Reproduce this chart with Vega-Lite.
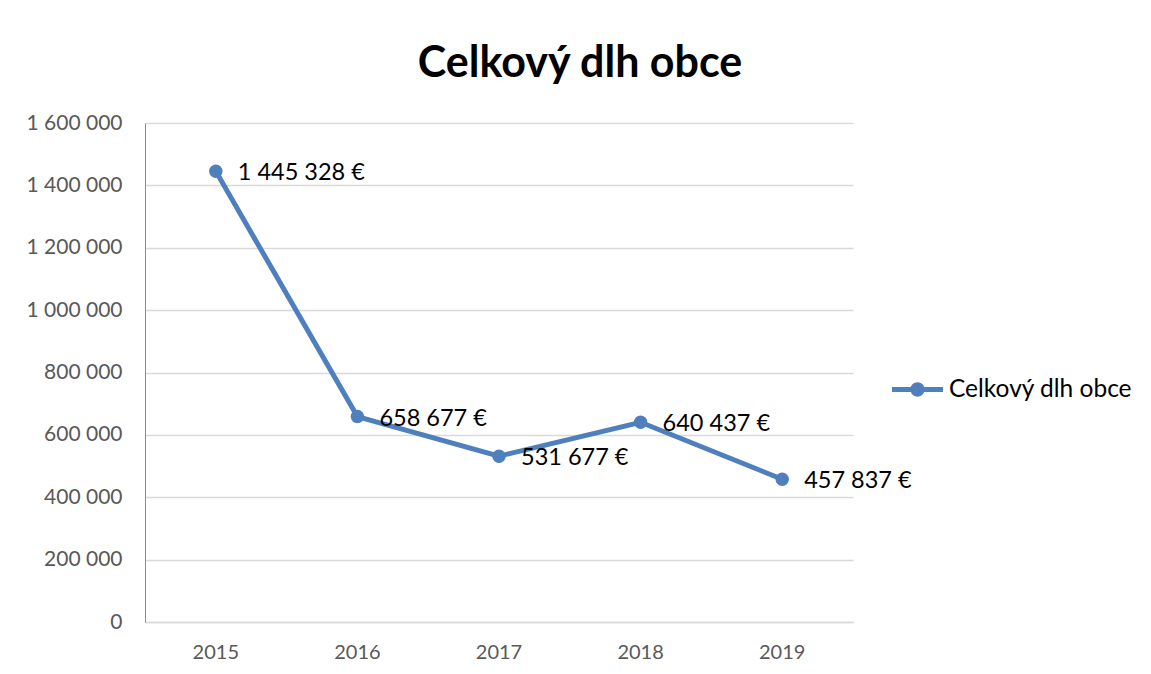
{
  "$schema": "https://vega.github.io/schema/vega-lite/v6.json",
  "width": 708,
  "height": 499,
  "autosize": "none",
  "padding": {"left": 145, "top": 123, "right": 298, "bottom": 52},
  "background": "white",
  "config": {"view": {"stroke": null}, "font": "Lato"},
  "title": {"text": "Celkový dlh obce", "fontSize": 43, "font": "Lato", "fontWeight": "bold", "color": "#000000", "anchor": "middle", "dx": 81, "offset": 26},
  "data": {"values": [
    {"year": "2015", "value": 1445328, "series": "Celkový dlh obce"},
    {"year": "2016", "value": 658677, "series": "Celkový dlh obce"},
    {"year": "2017", "value": 531677, "series": "Celkový dlh obce"},
    {"year": "2018", "value": 640437, "series": "Celkový dlh obce"},
    {"year": "2019", "value": 457837, "series": "Celkový dlh obce"}
  ]},
  "transform": [
    {"calculate": "replace(replace(format(datum.value, ','), ',', ' '), ',', ' ') + ' €'", "as": "label"}
  ],
  "encoding": {
    "x": {"field": "year", "type": "ordinal", "scale": {"type": "band", "paddingInner": 0, "paddingOuter": 0},
      "axis": {"title": null, "labelAngle": 0, "labelFontSize": 20, "labelColor": "#595959", "labelPadding": 20, "ticks": false, "domainColor": "#d9d9d9", "domainWidth": 1.5, "grid": false}},
    "y": {"field": "value", "type": "quantitative", "scale": {"domain": [0, 1600000], "nice": false},
      "axis": {"title": null, "values": [0, 200000, 400000, 600000, 800000, 1000000, 1200000, 1400000, 1600000], "labelExpr": "replace(replace(format(datum.value, ','), ',', ' '), ',', ' ')", "labelFontSize": 21, "labelColor": "#595959", "labelPadding": 23, "ticks": false, "domainColor": "#8c8c8c", "gridColor": "#d9d9d9", "gridWidth": 1.3}}
  },
  "layer": [
    {"mark": {"type": "line", "strokeWidth": 5, "point": {"size": 180, "filled": true, "opacity": 1}},
      "encoding": {"color": {"field": "series", "type": "nominal", "scale": {"range": ["#4f7fbd"]},
        "legend": {"title": null, "orient": "none", "legendX": 747, "legendY": 241, "labelFontSize": 24.5, "labelColor": "#000000", "labelLimit": 400, "symbolType": "M-1,-0.1H1V0.1H-1Z M0.28,0 A0.28,0.28 0 1,1 -0.28,0 A0.28,0.28 0 1,1 0.28,0Z", "symbolSize": 2601, "symbolFillColor": "#4f7fbd", "symbolStrokeWidth": 0, "labelOffset": 6}}}},
    {"mark": {"type": "text", "align": "left", "baseline": "middle", "dx": 22, "dy": 2, "fontSize": 23.5, "color": "#000000"},
      "encoding": {"text": {"field": "label"}}}
  ]
}
